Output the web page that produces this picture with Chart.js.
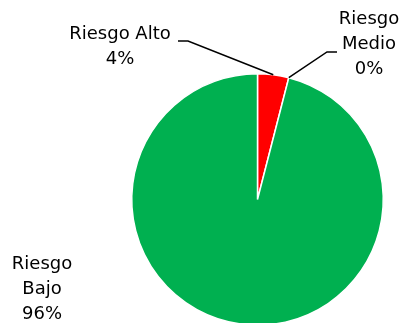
<!DOCTYPE html>
<html>
<head>
<meta charset="utf-8">
<script src="https://cdn.jsdelivr.net/npm/chart.js@4/dist/chart.umd.min.js"></script>
<style>
  html, body { margin: 0; padding: 0; background: #fff; overflow: hidden; }
  #wrap { position: absolute; left: 0; top: 0; width: 404px; height: 330px; }
</style>
</head>
<body>
<div id="wrap"><canvas id="riskChart" width="404" height="330"></canvas></div>
<script>
// Risk levels and their share of the total (%)
const categories = ["Riesgo Alto", "Riesgo Medio", "Riesgo Bajo"];
const percents = [4, 0, 96];
const sliceColors = ["#FF0000", "#FFC000", "#00B050"];

// Where each slice label sits, plus the leader-line elbow (null = no leader)
const labelSpots = [
    { lines: ["Riesgo Alto"], x: 120, y: 34, elbow: [188, 41], tail: [178, 41] },
    { lines: ["Riesgo", "Medio"], x: 369, y: 19, elbow: [327, 52], tail: [337, 52] },
    { lines: ["Riesgo", "Bajo"], x: 42, y: 264, elbow: null }
];

const sliceLabels = {
    id: "sliceLabels",
    afterDraw(chart) {
        const ctx = chart.ctx;
        const arcs = chart.getDatasetMeta(0).data;
        ctx.save();
        ctx.font = "18px 'DejaVu Sans'";
        ctx.fillStyle = "#000";
        ctx.textAlign = "center";
        ctx.textBaseline = "middle";
        labelSpots.forEach((spot, i) => {
            // name lines, then the percentage from the data
            const text = spot.lines.concat([percents[i] + "%"]);
            text.forEach((t, k) => ctx.fillText(t, spot.x, spot.y + k * 25));
            if (!spot.elbow) return;
            const p = arcs[i].getProps(["x", "y", "startAngle", "endAngle", "outerRadius"], true);
            const mid = (p.startAngle + p.endAngle) / 2;
            ctx.beginPath();
            ctx.strokeStyle = "#000";
            ctx.lineWidth = 1.5;
            ctx.moveTo(p.x + Math.cos(mid) * p.outerRadius, p.y + Math.sin(mid) * p.outerRadius);
            ctx.lineTo(spot.elbow[0], spot.elbow[1]);
            ctx.lineTo(spot.tail[0], spot.tail[1]);
            ctx.stroke();
        });
        ctx.restore();
    }
};

new Chart(document.getElementById("riskChart"), {
    type: "pie",
    data: {
        labels: categories,
        datasets: [{
            data: percents,
            backgroundColor: sliceColors,
            borderColor: "#fff",
            borderWidth: 1.5
        }]
    },
    options: {
        responsive: false,
        animation: false,
        layout: { padding: { left: 131, right: 20, top: 73, bottom: 4 } },
        plugins: {
            legend: { display: false },
            tooltip: { enabled: false }
        }
    },
    plugins: [sliceLabels]
});
</script>
</body>
</html>
